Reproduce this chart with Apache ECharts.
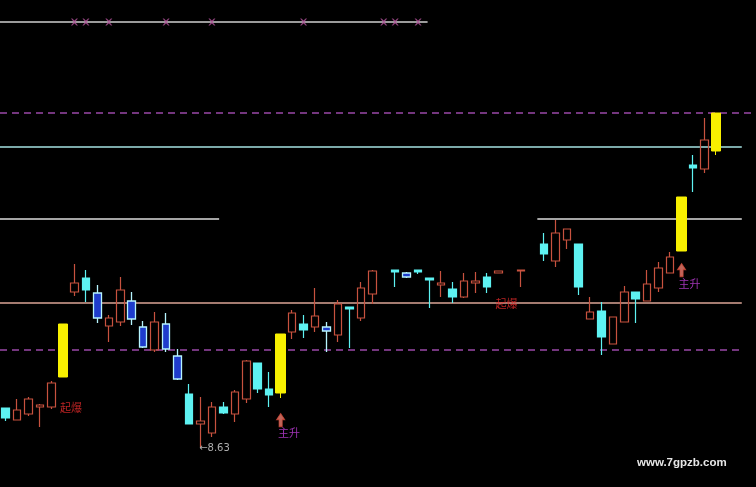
<!DOCTYPE html>
<html><head><meta charset="utf-8">
<script src="https://cdn.jsdelivr.net/npm/echarts@6/dist/echarts.min.js"></script>
<style>html,body{margin:0;padding:0;background:#000}#c{width:756px;height:487px}</style>
</head><body><div id="c"></div>
<script>
// ---- data (prices) ----
const categories = Array.from({length: 66}, (_, i) => 'D' + (i + 1));
const opens  = [9.02,8.90,8.96,9.03,9.03,9.33,10.18,10.32,10.17,9.84,9.88,10.09,9.83,9.60,9.86,9.54,9.16,8.86,8.77,9.03,8.96,9.11,9.47,9.21,9.17,9.78,9.86,9.83,9.83,9.75,10.03,9.92,10.16,null,10.40,10.37,10.40,10.32,10.25,10.21,10.13,10.27,10.33,10.37,null,10.39,null,10.66,10.49,10.70,10.66,9.91,9.99,9.66,9.88,10.18,10.09,10.22,10.37,10.59,11.45,11.41,11.59];
const closes = [8.92,9.00,9.11,9.05,9.27,9.86,10.27,10.20,9.92,9.92,10.20,9.91,9.63,9.88,9.61,9.31,8.86,8.89,9.03,8.97,9.18,9.49,9.21,9.15,9.76,9.97,9.80,9.94,9.79,10.06,10.01,10.22,10.39,null,10.38,10.33,10.38,10.30,10.27,10.13,10.29,10.29,10.23,10.39,null,10.40,null,10.56,10.77,10.81,10.23,9.98,9.73,9.93,10.18,10.11,10.26,10.42,10.53,11.13,11.42,11.70,11.97];
const lows   = [8.89,8.90,8.94,8.83,9.01,9.33,10.14,10.08,9.87,9.68,9.84,9.85,9.62,9.58,9.58,9.30,8.86,8.63,8.73,8.96,8.88,9.07,9.17,9.03,9.12,9.71,9.72,9.78,9.58,9.68,9.62,9.89,10.06,null,10.23,10.32,10.36,10.02,10.13,10.07,10.12,10.17,10.17,10.37,null,10.23,null,10.49,10.43,10.61,10.15,9.91,9.55,9.66,9.88,9.87,10.09,10.18,10.37,10.59,11.18,11.37,11.55];
const highs  = [9.02,9.11,9.13,9.06,9.29,9.86,10.46,10.40,10.25,9.95,10.33,10.18,9.89,9.98,9.97,9.61,9.26,9.13,9.08,9.08,9.20,9.50,9.47,9.38,9.76,10.00,9.95,10.22,9.88,10.10,10.03,10.28,10.40,null,10.40,10.38,10.40,10.32,10.39,10.28,10.37,10.38,10.37,10.39,null,10.40,null,10.77,10.90,10.81,10.66,10.13,10.08,9.93,10.24,10.18,10.40,10.48,10.58,11.13,11.55,11.92,11.97];
const yellowIdx = [5, 24, 59, 62];
const blueIdx = [8, 11, 12, 14, 15, 28, 35];
const markerIdx = [6, 7, 9, 14, 18, 26, 33, 34, 36];
const markerLevel = 12.88;
const purpleHigh = 11.97;
const cyanLevel = 11.63;
const whiteLevel = 10.91;
const salmonLevel = 10.07;
const purpleLow = 9.60;
const qibaoAt = [[5.70, 9.02], [43.71, 10.06]];
const zhushengArrowAt = [[24, 8.90], [59, 10.40]];
const zhushengTextAt = [[24.73, 8.77], [59.69, 10.26]];
const lowLabelAt = [16.89, 8.62];
const lowValue = 8.63;

// ---- layout / style ----
const LEFT_END = -0.5, RIGHT_END = 64.26, FULL_END = 65.5;
const WHITE_LEFT_END = 18.63, WHITE_RIGHT_START = 46.41, TOP_END = 36.83;
const RED = '#c8523f', CYAN = '#5ef2f2', YELLOW = '#f8f000';
const BLUE_FILL = '#1e3ccc', BLUE_EDGE = '#b6f4ff';

function ohlc(i) { return [opens[i], closes[i], lows[i], highs[i]]; }
const candleData = opens.map((o, i) => {
  if (o == null || yellowIdx.includes(i)) return '-';
  const item = {value: ohlc(i)};
  if (blueIdx.includes(i)) item.itemStyle = {color0: BLUE_FILL, borderColor0: BLUE_EDGE, borderWidth: 1.3};
  return item;
});
const yellowData = opens.map((o, i) => yellowIdx.includes(i) ? {value: ohlc(i)} : '-');

function hline(y, x0, x1, color, type, width) {
  return {type: 'line', xAxisIndex: 1, yAxisIndex: 0, data: [[x0, y], [x1, y]], symbol: 'none', silent: true, z: 1,
    lineStyle: {color: color, width: width || 1.5, type: type || 'solid'}};
}
function textSeries(points, text, color, size, align, family) {
  return {type: 'scatter', xAxisIndex: 1, data: points, symbolSize: 1, itemStyle: {color: 'rgba(0,0,0,0)'}, z: 5, silent: true,
    label: {show: true, position: 'inside', formatter: text, color: color, fontSize: size,
      fontFamily: family || 'Noto Sans CJK SC, sans-serif', align: align || 'center', verticalAlign: 'middle'}};
}

const chart = echarts.init(document.getElementById('c'), null, {renderer: 'canvas'});
chart.setOption({
  backgroundColor: '#000',
  animation: false,
  grid: {left: -1.74, right: -0.2, top: 0, bottom: 0},
  xAxis: [
    {type: 'category', data: categories, show: false, boundaryGap: true},
    {type: 'value', min: -0.5, max: 65.5, show: false}
  ],
  yAxis: {type: 'value', min: 8.23, max: 13.10, show: false, splitLine: {show: false}},
  series: [
    hline(markerLevel, LEFT_END, TOP_END, '#cfcfcf', 'solid', 1.5),
    hline(purpleHigh, LEFT_END, FULL_END, '#9a48a8', [7, 5], 1.5),
    hline(cyanLevel, LEFT_END, RIGHT_END, '#a6e2e2', 'solid', 1.3),
    hline(whiteLevel, LEFT_END, WHITE_LEFT_END, '#dcdcdc', 'solid', 1.5),
    hline(whiteLevel, WHITE_RIGHT_START, RIGHT_END, '#dcdcdc', 'solid', 1.5),
    hline(salmonLevel, LEFT_END, RIGHT_END, '#dba596', 'solid', 1.6),
    hline(purpleLow, LEFT_END, RIGHT_END, '#9a48a8', [7, 5], 1.5),
    {
      type: 'candlestick', data: candleData, barWidth: 8, z: 3,
      itemStyle: {color: 'rgba(0,0,0,0)', color0: CYAN, borderColor: RED, borderColor0: CYAN, borderWidth: 1.2}
    },
    {
      type: 'candlestick', data: yellowData, barWidth: 10, z: 3,
      itemStyle: {color: YELLOW, color0: YELLOW, borderColor: YELLOW, borderColor0: YELLOW, borderWidth: 1}
    },
    {
      type: 'scatter', xAxisIndex: 0, data: markerIdx.map(i => [i, markerLevel]), z: 4, silent: true,
      symbol: 'path://M0,0 L2,0 L5,3 L8,0 L10,0 L6,5 L10,10 L8,10 L5,7 L2,10 L0,10 L4,5 Z', symbolSize: 7,
      itemStyle: {color: '#b4549c'}
    },
    {
      type: 'scatter', xAxisIndex: 1, data: zhushengArrowAt, z: 4, silent: true,
      symbol: 'path://M5,0 L10,6 L7,6 L7,13 L3,13 L3,6 L0,6 Z', symbolSize: [8, 13],
      itemStyle: {color: '#f08070', borderColor: '#d04838', borderWidth: 1}
    },
    textSeries(qibaoAt, '起爆', '#e82c2c', 11),
    textSeries(zhushengTextAt, '主升', '#c640e0', 11),
    textSeries([lowLabelAt], '←' + lowValue.toFixed(2), '#d8d8d8', 10, 'left', 'DejaVu Sans, sans-serif')
  ],
  graphic: [{
    type: 'text', left: 637, top: 457,
    style: {text: 'www.7gpzb.com', fill: '#e6e6e6', font: 'bold 11.5px Liberation Sans, Arial, sans-serif'}
  }]
});
</script></body></html>
